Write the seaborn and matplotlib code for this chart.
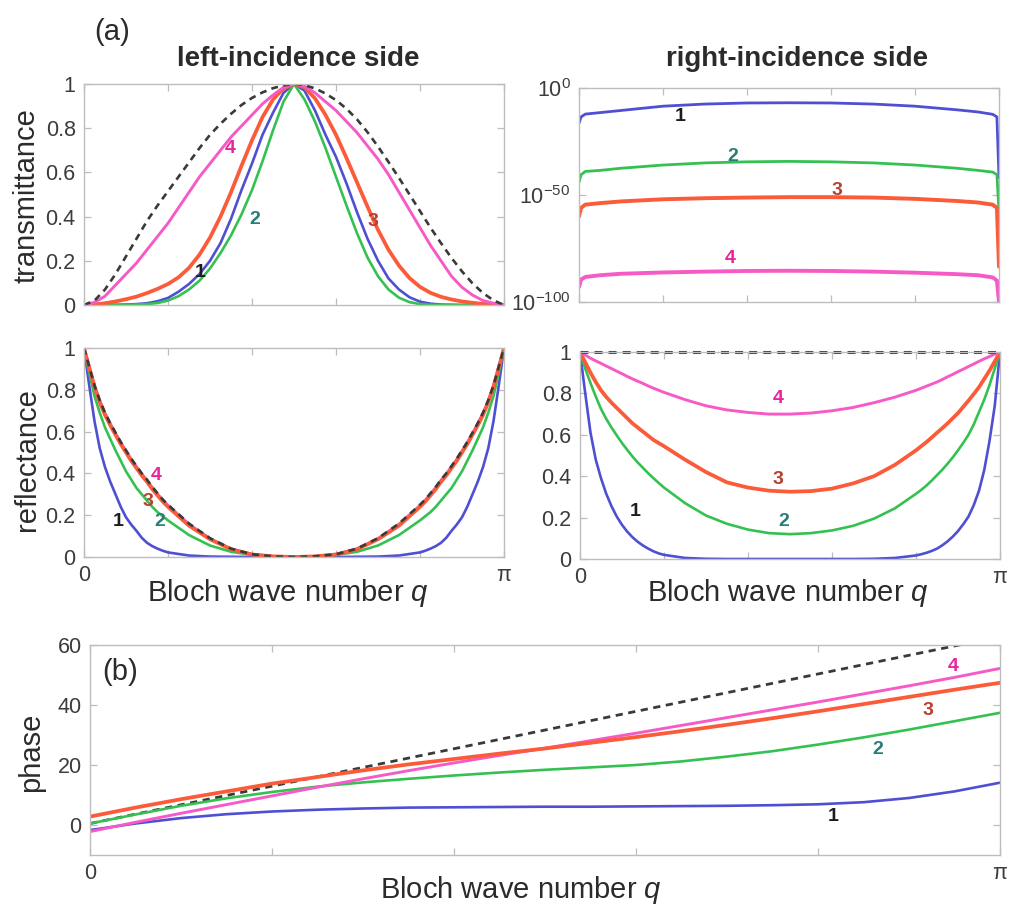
import numpy as np
import matplotlib
matplotlib.use("Agg")
import matplotlib.pyplot as plt
from matplotlib.ticker import NullLocator
import seaborn as sns

sns.set_theme(style="white")
plt.rcParams['font.family'] = ['Liberation Sans', 'DejaVu Sans']
plt.rcParams['mathtext.fontset'] = 'custom'
plt.rcParams['mathtext.rm'] = 'Liberation Sans'
plt.rcParams['mathtext.it'] = 'Liberation Sans:italic'

# ---------------------------------------------------------------- data
# Bloch wave number grids, in units of pi
q_T = [i * 0.025 for i in range(41)]
q_R = [0, 0.0125, 0.025, 0.0375, 0.05, 0.0625, 0.075, 0.0875, 0.1, 0.1125, 0.125,
       0.1375, 0.15, 0.1625, 0.175, 0.1875, 0.2,
       0.25, 0.3, 0.35, 0.4, 0.45, 0.5, 0.55, 0.6, 0.65, 0.7, 0.75,
       0.8, 0.8125, 0.825, 0.8375, 0.85, 0.8625, 0.875, 0.8875, 0.9, 0.9125, 0.925,
       0.9375, 0.95, 0.9625, 0.975, 0.9875, 1.0]
q_TR = [0, 0.005, 0.015, 0.05, 0.1, 0.2, 0.3, 0.4, 0.5, 0.6, 0.7, 0.8, 0.9,
        0.95, 0.985, 0.995, 1.0]
q_phase = [i * 0.05 for i in range(21)]
q_phase_ref = [0.0, 1.0]

# left-incidence transmittance
T_left_ref = [0, .02, .07, .14, .22, .30, .38, .45, .515, .58, .645, .71, .77, .82,
              .865, .905, .937, .962, .981, .994, 1.0,
              .995, .98, .957, .927, .888, .84, .782, .717, .647, .575, .5, .425, .35,
              .28, .213, .152, .098, .054, .021, 0]
T_left_1 = [0, 0, 0, .001, .002, .004, .008, .017, .032, .06, .095, .14, .2, .28, .39,
            .52, .64, .77, .87, .96, 1.0,
            .97, .88, .77, .67, .55, .42, .30, .20, .12, .07, .035, .015, .006, .002,
            .001, 0, 0, 0, 0, 0]
T_left_2 = [0, 0, 0, 0, .001, .002, .004, .009, .02, .04, .07, .11, .165, .235, .315,
            .41, .52, .65, .79, .92, 1.0,
            .93, .83, .71, .58, .45, .325, .215, .13, .07, .033, .013, .004, .001, 0,
            0, 0, 0, 0, 0, 0]
T_left_3 = [0, .002, .008, .016, .026, .038, .054, .073, .095, .125, .168, .228, .305,
            .40, .51, .63, .745, .85, .93, .98, 1.0,
            .985, .935, .86, .77, .665, .555, .445, .34, .25, .178, .122, .082, .055,
            .037, .025, .016, .01, .005, .002, 0]
T_left_4 = [0, .012, .04, .09, .14, .19, .25, .31, .37, .44, .51, .58, .64, .70, .76,
            .81, .86, .91, .95, .985, 1.0,
            .99, .96, .92, .88, .83, .78, .72, .66, .59, .51, .43, .35, .27, .20,
            .13, .08, .045, .02, .008, 0]

# right-incidence transmittance, log10
logT_right_1 = [-16.5, -13.5, -12.2, -11.5, -10.5, -8.5, -7.5, -7.0, -6.9, -7.0, -7.5,
                -8.5, -10.2, -11.2, -12.3, -13.5, -42]
logT_right_2 = [-44, -40.5, -39, -38.5, -37.5, -36, -35, -34.5, -34.3, -34.5, -35, -36,
                -37.5, -38.5, -39.3, -40.5, -58]
logT_right_3 = [-60, -56, -54.5, -53.8, -53, -52, -51.5, -51.2, -51, -51, -51.2, -51.8,
                -52.8, -53.5, -54.5, -56, -83.5]
logT_right_4 = [-93, -89.5, -88.3, -87.5, -86.8, -86.2, -85.8, -85.5, -85.4, -85.5,
                -85.8, -86.3, -87, -87.5, -88.5, -90, -100]

# left-incidence reflectance
R_left_ref = [1, .91, .82, .75, .69, .64, .595, .55, .51, .47, .435, .40, .37, .335,
              .305, .275, .25,
              .16, .09, .04, .013, .003, 0, .003, .013, .04, .09, .16,
              .25, .275, .305, .335, .37, .40, .435, .47, .51, .55, .595, .64, .69,
              .75, .82, .91, 1]
R_left_1 = [1, .82, .65, .52, .43, .36, .30, .24, .19, .155, .125, .092, .068, .052,
            .04, .03, .022,
            .007, .002, .001, 0, 0, 0, 0, 0, .001, .002, .007,
            .022, .03, .04, .052, .068, .092, .125, .155, .19, .24, .30, .36, .43,
            .52, .65, .82, 1]
R_left_2 = [1, .88, .77, .69, .62, .565, .51, .46, .41, .37, .33, .30, .27, .24, .215,
            .195, .175,
            .105, .055, .025, .01, .003, 0, .003, .01, .025, .055, .105,
            .175, .195, .215, .24, .27, .30, .33, .37, .41, .46, .51, .565, .62, .69,
            .77, .88, 1]
R_left_3 = [1, .905, .815, .74, .68, .63, .585, .54, .50, .46, .425, .39, .36, .325,
            .295, .265, .24,
            .15, .085, .037, .012, .003, 0, .003, .012, .037, .085, .15,
            .24, .265, .295, .325, .36, .39, .425, .46, .50, .54, .585, .63, .68,
            .74, .815, .905, 1]
R_left_4 = [1, .91, .82, .748, .688, .638, .592, .548, .507, .468, .432, .398, .367,
            .333, .302, .272, .247,
            .157, .088, .039, .013, .003, 0, .003, .013, .039, .088, .157,
            .247, .272, .302, .333, .367, .398, .432, .468, .507, .548, .592, .638,
            .688, .748, .82, .91, 1]

# right-incidence reflectance
R_right_ref = [1.0] * len(q_R)
R_right_1 = [1, .80, .61, .48, .39, .315, .255, .205, .165, .132, .105, .083, .065,
             .05, .037, .027, .02,
             .005, .001, 0, 0, 0, 0, 0, 0, 0, .001, .005,
             .017, .023, .03, .039, .05, .066, .085, .108, .135, .168, .205, .26, .33,
             .43, .57, .74, 1]
R_right_2 = [1, .92, .85, .785, .725, .677, .635, .597, .56, .527, .495, .466, .44,
             .414, .39, .367, .345,
             .27, .21, .17, .142, .125, .12, .125, .138, .16, .195, .245,
             .315, .334, .355, .379, .405, .431, .46, .491, .525, .561, .60, .65, .71,
             .77, .84, .92, 1]
R_right_3 = [1, .95, .9, .855, .815, .783, .755, .73, .705, .68, .655, .635, .615,
             .595, .575, .56, .545,
             .48, .42, .37, .345, .33, .325, .328, .34, .365, .4, .455,
             .525, .545, .565, .587, .61, .632, .655, .68, .705, .735, .765, .797, .83,
             .87, .91, .955, 1]
R_right_4 = [1, .985, .97, .957, .945, .932, .92, .907, .895, .882, .87, .859, .848,
             .836, .825, .815, .805,
             .77, .74, .72, .708, .70, .70, .705, .716, .732, .755, .782,
             .815, .825, .835, .845, .855, .867, .88, .892, .905, .917, .93, .942, .955,
             .967, .978, .99, 1]

# transmission phase
phase_ref = [0.5, 62.8]
phase_1 = [-1.7, 0.5, 2.3, 3.6, 4.5, 5.1, 5.5, 5.8, 5.9, 6.0, 6.1, 6.1, 6.2, 6.3, 6.4,
           6.6, 6.9, 7.6, 9.0, 11.2, 14.1]
phase_2 = [0.5, 3.5, 6.4, 8.9, 11.0, 12.8, 14.2, 15.4, 16.5, 17.5, 18.4, 19.2, 20.0,
           21.2, 22.8, 24.6, 26.8, 29.2, 31.8, 34.6, 37.4]
phase_3 = [2.8, 5.8, 8.6, 11.2, 13.8, 16.0, 18.2, 20.2, 22.0, 23.8, 25.5, 27.4, 29.3,
           31.3, 33.4, 35.6, 37.9, 40.3, 42.7, 45.1, 47.4]
phase_4 = [-2.2, 0.9, 3.9, 6.8, 9.7, 12.6, 15.4, 18.1, 20.7, 23.2, 25.6, 28.1, 30.6,
           33.2, 35.8, 38.4, 41.0, 43.7, 46.4, 49.2, 52.2]

curve_ids = ["1", "2", "3", "4"]
unit_ticks = [0, 0.2, 0.4, 0.6, 0.8, 1]
unit_ticklabels = ["0", "0.2", "0.4", "0.6", "0.8", "1"]

# ---------------------------------------------------------------- style
LINE = {"1": "#4f4fd3", "2": "#35c152", "3": "#fb5b39", "4": "#f65ac6"}
TEXT = {"1": "#1c1c1c", "2": "#2a7e78", "3": "#b9402f", "4": "#e8239c"}
WIDTH = {"1": 1.9, "2": 1.9, "3": 2.7, "4": 2.1}
REF_COLOR = "#3a3a3a"
SPINE = "#bdbdbd"
TICKTXT = "#3c3c3c"
LABEL = "#2b2b2b"

W, H = 1014, 906
fig = plt.figure(figsize=(W / 100, H / 100), dpi=100)


def box(x0, y0, x1, y1):
    return [x0 / W, 1 - y1 / H, (x1 - x0) / W, (y1 - y0) / H]


ax_tl = fig.add_axes(box(84, 84, 504, 305))
ax_tr = fig.add_axes(box(579, 88, 999, 302))
ax_ml = fig.add_axes(box(84, 348, 504, 557))
ax_mr = fig.add_axes(box(580, 352, 1000, 559))
ax_b = fig.add_axes(box(90, 645, 1000, 855))


def style(ax, xlabels=False):
    for s in ax.spines.values():
        s.set_color(SPINE)
        s.set_linewidth(1.0)
    ax.tick_params(direction="in", length=5, width=0.9, color=SPINE,
                   top=True, right=True, bottom=True, left=True,
                   labelsize=15.5, labelcolor=TICKTXT, pad=6)
    ax.set_xlim(0, np.pi)
    ax.set_xticks(np.pi * np.array([0, 0.2, 0.4, 0.6, 0.8, 1.0]))
    if xlabels:
        ax.set_xticklabels(["0", "", "", "", "", "π"])
    else:
        ax.set_xticklabels([""] * 6)
    ax.grid(False)


def draw(ax, qf, y, cid, **kw):
    sns.lineplot(x=np.pi * np.asarray(qf), y=y, ax=ax, color=LINE[cid],
                 lw=kw.pop("lw", WIDTH[cid]), sort=False, estimator=None, **kw)


def draw_ref(ax, qf, y, lw=1.9, **kw):
    sns.lineplot(x=np.pi * np.asarray(qf), y=y, ax=ax, color=REF_COLOR, lw=lw,
                 linestyle=(0, (2.6, 2.0)), sort=False, estimator=None, **kw)


def tag(ax, qf, y, cid, size=14):
    ax.text(np.pi * qf, y, cid, color=TEXT[cid], fontsize=size, fontweight="bold",
            ha="center", va="center")


# (a) top-left: transmittance, left incidence
for cid, ys in zip(curve_ids, [T_left_1, T_left_2, T_left_3, T_left_4]):
    draw(ax_tl, q_T, ys, cid)
draw_ref(ax_tl, q_T, T_left_ref)
style(ax_tl)
ax_tl.set_ylim(0, 1)
ax_tl.set_yticks(unit_ticks)
ax_tl.set_yticklabels(unit_ticklabels)
ax_tl.set_ylabel("transmittance", fontsize=21, color=LABEL, va="center", ha="center")
ax_tl.yaxis.set_label_coords(-0.136, 0.493)
ax_tl.set_title("left-incidence side", fontsize=20, fontweight="bold", color=LABEL,
                y=1.077, x=0.51, va="center")
for cid, (qx, yy) in zip(curve_ids, [(0.276, 0.145), (0.407, 0.385),
                                     (0.689, 0.377), (0.348, 0.709)]):
    tag(ax_tl, qx, yy, cid)

# top-right: transmittance, right incidence (log scale)
for cid, ys in zip(curve_ids, [logT_right_1, logT_right_2, logT_right_3, logT_right_4]):
    draw(ax_tr, q_TR, 10.0 ** np.asarray(ys, dtype=float), cid,
         lw={"1": 2.0, "2": 2.0, "3": 2.8, "4": 2.8}[cid])
style(ax_tr)
ax_tr.set_yscale("log")
ax_tr.set_ylim(1e-100, 1)
ax_tr.set_yticks([1e-100, 1e-50, 1])
ax_tr.set_yticklabels([r"$10^{-100}$", r"$10^{-50}$", r"$10^{0}$"])
ax_tr.yaxis.set_minor_locator(NullLocator())
ax_tr.set_title("right-incidence side", fontsize=20, fontweight="bold", color=LABEL,
                y=1.098, x=0.519, va="center")
for cid, (qx, ly) in zip(curve_ids, [(0.24, -13.4), (0.367, -32.1),
                                     (0.613, -47.7), (0.36, -79.6)]):
    tag(ax_tr, qx, 10.0 ** ly, cid)

# middle-left: reflectance, left incidence
for cid, ys in zip(["1", "2", "4", "3"], [R_left_1, R_left_2, R_left_4, R_left_3]):
    draw(ax_ml, q_R, ys, cid)
draw_ref(ax_ml, q_R, R_left_ref)
style(ax_ml, xlabels=True)
ax_ml.set_ylim(0, 1)
ax_ml.set_yticks(unit_ticks)
ax_ml.set_yticklabels(unit_ticklabels)
ax_ml.set_ylabel("reflectance", fontsize=21, color=LABEL, va="center", ha="center")
ax_ml.yaxis.set_label_coords(-0.136, 0.464)
ax_ml.set_xlabel(r"Bloch wave number $\mathit{q}$", fontsize=21, color=LABEL,
                 va="center", ha="center")
ax_ml.xaxis.set_label_coords(0.486, -0.172)
for cid, (qx, yy) in zip(curve_ids, [(0.082, 0.169), (0.181, 0.169),
                                     (0.153, 0.265), (0.173, 0.392)]):
    tag(ax_ml, qx, yy, cid)

# middle-right: reflectance, right incidence
for cid, ys in zip(curve_ids, [R_right_1, R_right_2, R_right_3, R_right_4]):
    draw(ax_mr, q_R, ys, cid)
draw_ref(ax_mr, q_R, R_right_ref, lw=2.2, clip_on=False)
style(ax_mr, xlabels=True)
ax_mr.set_ylim(0, 1)
ax_mr.set_yticks(unit_ticks)
ax_mr.set_yticklabels(unit_ticklabels)
ax_mr.set_xlabel(r"Bloch wave number $\mathit{q}$", fontsize=21, color=LABEL,
                 va="center", ha="center")
ax_mr.xaxis.set_label_coords(0.495, -0.164)
for cid, (qx, yy) in zip(curve_ids, [(0.131, 0.228), (0.484, 0.18),
                                     (0.472, 0.382), (0.472, 0.776)]):
    tag(ax_mr, qx, yy, cid)

# (b) bottom: transmission phase
draw_ref(ax_b, q_phase_ref, phase_ref, lw=2.0)
for cid, ys in zip(["1", "2", "4", "3"], [phase_1, phase_2, phase_4, phase_3]):
    draw(ax_b, q_phase, ys, cid)
style(ax_b, xlabels=True)
ax_b.set_ylim(-10, 60)
ax_b.set_yticks([0, 20, 40, 60])
ax_b.set_ylabel("phase", fontsize=21, color=LABEL, va="center", ha="center")
ax_b.yaxis.set_label_coords(-0.065, 0.49)
ax_b.set_xlabel(r"Bloch wave number $\mathit{q}$", fontsize=21, color=LABEL,
                va="center", ha="center")
ax_b.xaxis.set_label_coords(0.474, -0.167)
for cid, (qx, yy) in zip(curve_ids, [(0.817, 2.8), (0.866, 25.0),
                                     (0.921, 38.3), (0.949, 52.8)]):
    tag(ax_b, qx, yy, cid)
ax_b.text(0.013, 0.873, "(b)", transform=ax_b.transAxes, fontsize=21,
          color=LABEL, ha="left", va="center")

fig.text(112 / W, 1 - 32 / H, "(a)", fontsize=21, color=LABEL,
         ha="center", va="center")

fig.savefig("out.png", dpi=100, facecolor="white")
